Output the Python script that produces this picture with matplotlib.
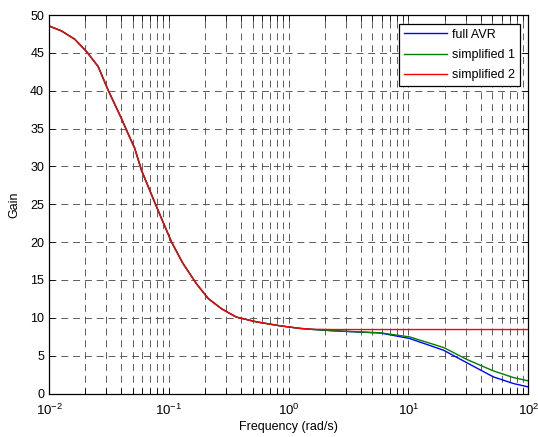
import matplotlib
matplotlib.use("Agg")
import matplotlib.pyplot as plt
from matplotlib.ticker import LogLocator, NullFormatter, MultipleLocator

plt.rcParams['font.family'] = ['Liberation Sans', 'DejaVu Sans']
plt.rcParams['font.size'] = 9
plt.rcParams['lines.scale_dashes'] = False

freq = [0.01, 0.0127, 0.0164, 0.0205, 0.0257, 0.0311, 0.0403, 0.0443, 0.0519,
        0.0591, 0.0788, 0.1054, 0.131, 0.17, 0.213, 0.275, 0.365, 0.54, 0.85,
        1.24, 1.6, 2.35, 4.8, 5.8, 10.2, 19.6, 30.8, 51, 75, 100]
full_avr = [48.55, 47.9, 46.8, 45.2, 43.2, 40.1, 36.3, 34.8, 32.4,
            29.5, 24.7, 20.0, 17.2, 14.5, 12.55, 11.2, 10.1, 9.46, 8.94,
            8.6, 8.46, 8.28, 8.05, 8.0, 7.27, 5.72, 4.05, 2.2, 1.32, 0.87]
simplified_1 = [48.55, 47.9, 46.8, 45.2, 43.2, 40.1, 36.3, 34.8, 32.4,
                29.5, 24.7, 20.0, 17.2, 14.5, 12.55, 11.2, 10.1, 9.46, 8.94,
                8.6, 8.46, 8.3, 8.07, 8.02, 7.48, 6.08, 4.49, 2.99, 2.11, 1.67]
simplified_2 = [48.55, 47.9, 46.8, 45.2, 43.2, 40.1, 36.3, 34.8, 32.4,
                29.5, 24.7, 20.0, 17.2, 14.5, 12.55, 11.2, 10.1, 9.46, 8.94,
                8.6, 8.48, 8.45, 8.45, 8.45, 8.45, 8.45, 8.45, 8.45, 8.45, 8.45]
labels = ['full AVR', 'simplified 1', 'simplified 2']
colors = ['#0000ff', '#008000', '#ff0000']

fig = plt.figure(figsize=(5.38, 4.37), dpi=100)
ax = fig.add_axes([49 / 538, (437 - 393.5) / 437, (528.3 - 49) / 538, (393.5 - 15) / 437])

for y, lab, c in zip([full_avr, simplified_1, simplified_2], labels, colors):
    ax.semilogx(freq, y, color=c, lw=1.0, label=lab)

ax.set_xlim(1e-2, 1e2)
ax.set_ylim(0, 50)
ax.yaxis.set_major_locator(MultipleLocator(5))
ax.xaxis.set_major_locator(LogLocator(base=10, numticks=10))
ax.xaxis.set_minor_locator(LogLocator(base=10, subs=range(2, 10), numticks=100))
ax.xaxis.set_minor_formatter(NullFormatter())

grid_kw = dict(color='#444444', linestyle=(0, (5, 3.5)), linewidth=0.6)
ax.grid(True, which='major', axis='both', **grid_kw)
ax.grid(True, which='minor', axis='x', **grid_kw)

ax.tick_params(which='both', direction='in', top=True, right=True, colors='black',
               labelsize=9, width=0.6)
ax.tick_params(which='major', length=4)
ax.tick_params(which='minor', length=4)
ax.tick_params(axis='x', which='major', pad=7, labelsize=9.5)
for s in ax.spines.values():
    s.set_linewidth(0.9)
    s.set_color('black')

ax.set_xlabel('Frequency (rad/s)', fontsize=9, labelpad=2)
ax.set_ylabel('Gain', fontsize=9, labelpad=7)

leg = ax.legend(loc='upper right', fancybox=False, framealpha=1, edgecolor='black',
                handlelength=3.4, handletextpad=0.4, labelspacing=0.65,
                borderaxespad=0.7, borderpad=0.4, fontsize=9)
leg.get_frame().set_linewidth(0.9)

fig.savefig('out.png', dpi=100)
